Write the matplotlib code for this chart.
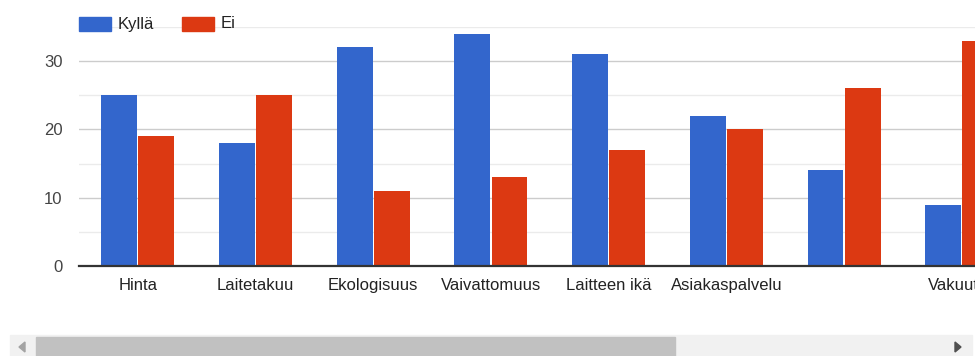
import numpy as np
import matplotlib.pyplot as plt
from matplotlib.patches import Rectangle, Polygon

# --- DATA ---
categories = ["Hinta", "Laitetakuu", "Ekologisuus", "Vaivattomuus",
              "Laitteen ikä", "Asiakaspalvelu", "", "Vakuutus"]
kylla = [25, 18, 32, 34, 31, 22, 14, 9]
ei = [19, 25, 11, 13, 17, 20, 26, 33]
series_names = ["Kyllä", "Ei"]
y_ticks = [0, 10, 20, 30]

BLUE = "#3366cc"
RED = "#dc3912"
W, H = 975, 356

plt.rcParams['font.family'] = ['Liberation Sans', 'DejaVu Sans']

fig = plt.figure(figsize=(W / 100, H / 100), dpi=100)
fig.patch.set_facecolor('white')

# plot area in pixels: left 79, bottom (y=266), top (y=27), right cut at 975
left_px, right_px, top_px, bottom_px = 79, 975, 27, 266
ax = fig.add_axes([left_px / W, 1 - bottom_px / H,
                   (right_px - left_px) / W, (bottom_px - top_px) / H])

x = np.arange(len(categories))
bar_w = 0.305
off = 0.158
ax.bar(x - off, kylla, width=bar_w, color=BLUE, zorder=3, label=series_names[0])
ax.bar(x + off, ei, width=bar_w, color=RED, zorder=3, label=series_names[1])

ax.set_ylim(0, 35)
# one category = 117.7 px
ax.set_xlim(-0.5, -0.5 + (right_px - left_px) / 117.7)

# gridlines
for v in [5, 15, 25, 35]:
    ax.axhline(v, color="#ebebeb", lw=1, zorder=1)
for v in [10, 20, 30]:
    ax.axhline(v, color="#cccccc", lw=1, zorder=1)
ax.axhline(0, color="#333333", lw=1.6, zorder=4, clip_on=False)

for s in ax.spines.values():
    s.set_visible(False)

ax.set_yticks(y_ticks)
ax.set_yticklabels([str(t) for t in y_ticks])
ax.tick_params(axis='y', length=0, pad=12, labelsize=12, labelcolor="#444444")
ax.set_xticks(x)
ax.set_xticklabels(categories)
# baseline about 24 px under the axis line
ax.tick_params(axis='x', length=0, pad=17, labelsize=12, labelcolor="#222222")
for lbl in ax.get_xticklabels():
    lbl.set_verticalalignment('baseline')
    lbl.set_clip_on(False)

# legend drawn in pixel space
def px(xp, yp):
    return xp / W, 1 - yp / H

leg_items = [(79, BLUE, series_names[0]), (182, RED, series_names[1])]
for x0, col, name in leg_items:
    fig.patches.append(Rectangle(px(x0, 31), 32 / W, 14 / H, color=col,
                                 transform=fig.transFigure))
    fig.text(*px(x0 + 39, 24), name, fontsize=12, color="#222222",
             va='center', ha='left')

# scrollbar at bottom
fig.patches.append(Rectangle(px(10, 356), 962 / W, 21 / H, color="#f1f1f1",
                             transform=fig.transFigure))
fig.patches.append(Rectangle(px(36, 356), 639 / W, 19 / H, color="#c1c1c1",
                             transform=fig.transFigure))
fig.patches.append(Polygon([px(19, 347), px(25, 342), px(25, 352)], closed=True,
                           color="#a3a3a3", transform=fig.transFigure))
fig.patches.append(Polygon([px(961, 347), px(955, 342), px(955, 352)], closed=True,
                           color="#505050", transform=fig.transFigure))

fig.savefig("out.png", dpi=100, facecolor='white')
